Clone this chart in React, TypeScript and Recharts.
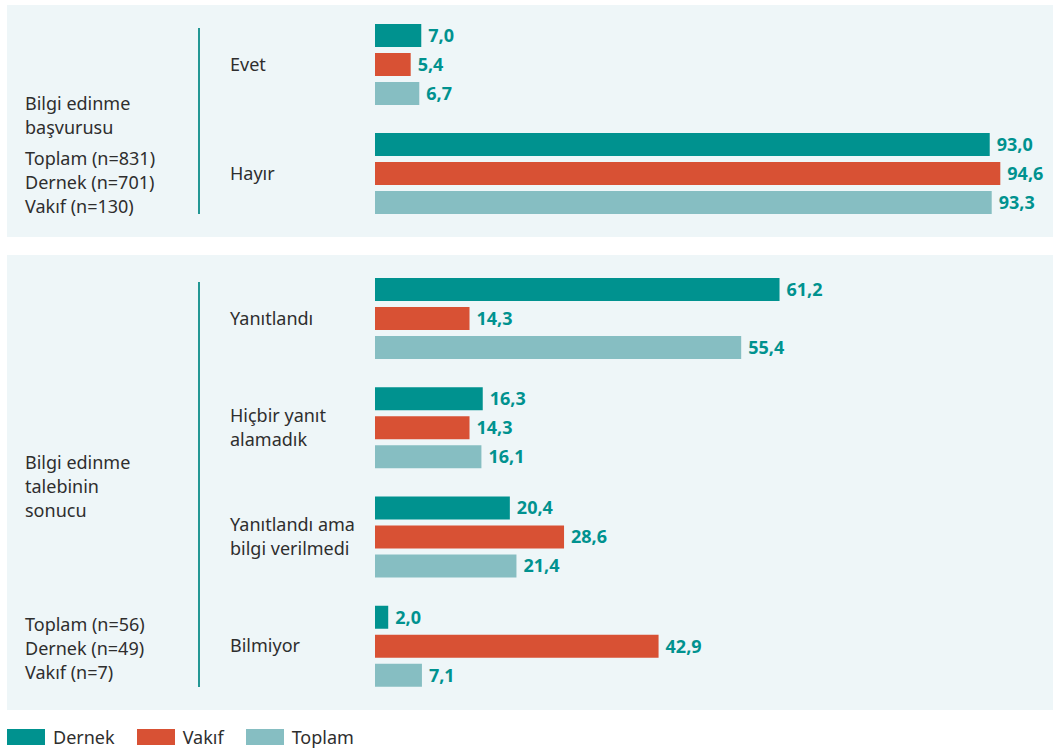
import React from 'react';
import { BarChart, Bar, XAxis, YAxis, LabelList } from 'recharts';

const seriesNames = ['Dernek', 'Vakıf', 'Toplam'];
const seriesKeys = ['dernek', 'vakif', 'toplam'];
const seriesColors = ['#00928f', '#d85134', '#86bec2'];

const basvuruCategories = ['Evet', 'Hayır'];
const basvuruDernek = [7.0, 93.0];
const basvuruVakif = [5.4, 94.6];
const basvuruToplam = [6.7, 93.3];

const sonucCategories = ['Yanıtlandı', 'Hiçbir yanıt\nalamadık', 'Yanıtlandı ama\nbilgi verilmedi', 'Bilmiyor'];
const sonucDernek = [61.2, 16.3, 20.4, 2.0];
const sonucVakif = [14.3, 14.3, 28.6, 42.9];
const sonucToplam = [55.4, 16.1, 21.4, 7.1];

const basvuruTitle = ['Bilgi edinme', 'başvurusu'];
const basvuruCounts = ['Toplam (n=831)', 'Dernek (n=701)', 'Vakıf (n=130)'];
const sonucTitle = ['Bilgi edinme', 'talebinin', 'sonucu'];
const sonucCounts = ['Toplam (n=56)', 'Dernek (n=49)', 'Vakıf (n=7)'];

const FONT = '"Noto Sans", "Open Sans", sans-serif';
const TEXT = '#2e2e2e';
const PANEL_BG = '#eef6f8';
const FS = 18;

const buildRows = (cats: string[], d: number[], v: number[], t: number[]) =>
  cats.map((name, i) => ({ name, dernek: d[i], vakif: v[i], toplam: t[i] }));

const fmt = (val: any) => Number(val).toFixed(1).replace('.', ',');

const CategoryTick = (props: any) => {
  const lines = String(props.payload.value).split('\n');
  const start = -((lines.length - 1) * 24) / 2;
  return (
    <text x={223} y={props.y} fill={TEXT} fontSize={FS} fontFamily={FONT} textAnchor="start">
      {lines.map((l, i) => (
        <tspan key={i} x={223} dy={i === 0 ? start + 6 : 24}>
          {l}
        </tspan>
      ))}
    </text>
  );
};

const Panel = ({
  top,
  height,
  rows,
  margin,
  line,
  blocks,
}: {
  top: number;
  height: number;
  rows: any[];
  margin: { top: number; bottom: number };
  line: { top: number; height: number };
  blocks: { top: number; lines: string[] }[];
}) => (
  <div style={{ position: 'absolute', left: 7, top, width: 1046, height, background: PANEL_BG }}>
    {blocks.map((b, i) => (
      <div
        key={i}
        style={{
          position: 'absolute',
          left: 18,
          top: b.top,
          fontFamily: FONT,
          fontSize: FS,
          lineHeight: '24px',
          color: TEXT,
          whiteSpace: 'nowrap',
        }}
      >
        {b.lines.map((l, j) => (
          <div key={j}>{l}</div>
        ))}
      </div>
    ))}
    <div
      style={{
        position: 'absolute',
        left: 191,
        top: line.top,
        width: 2,
        height: line.height,
        background: '#239794',
      }}
    />
    <BarChart
      width={1046}
      height={height}
      data={rows}
      layout="vertical"
      margin={{ top: margin.top, bottom: margin.bottom, left: 0, right: 17 }}
      barSize={23}
      barGap={6}
      style={{ position: 'absolute', left: 0, top: 0 }}
    >
      <XAxis type="number" domain={[0, 100]} hide />
      <YAxis
        type="category"
        dataKey="name"
        width={368}
        axisLine={false}
        tickLine={false}
        tick={<CategoryTick />}
        interval={0}
      />
      {seriesKeys.map((k, i) => (
        <Bar key={k} dataKey={k} name={seriesNames[i]} fill={seriesColors[i]} isAnimationActive={false}>
          <LabelList
            dataKey={k}
            position="right"
            offset={7}
            formatter={fmt}
            fill="#00928f"
            fontSize={FS}
            fontWeight={700}
            fontFamily={FONT}
          />
        </Bar>
      ))}
    </BarChart>
  </div>
);

export default function App() {
  const rows1 = buildRows(basvuruCategories, basvuruDernek, basvuruVakif, basvuruToplam);
  const rows2 = buildRows(sonucCategories, sonucDernek, sonucVakif, sonucToplam);
  return (
    <div style={{ position: 'absolute', left: 0, top: 0, width: 1054, height: 749, background: '#ffffff' }}>
      <Panel
        top={5}
        height={232}
        rows={rows1}
        margin={{ top: 5, bottom: 9 }}
        line={{ top: 23, height: 186 }}
        blocks={[
          { top: 85.5, lines: basvuruTitle },
          { top: 140.5, lines: basvuruCounts },
        ]}
      />
      <Panel
        top={255}
        height={455}
        rows={rows2}
        margin={{ top: 9, bottom: 9 }}
        line={{ top: 27, height: 405 }}
        blocks={[
          { top: 194.5, lines: sonucTitle },
          { top: 356.5, lines: sonucCounts },
        ]}
      />
      <div style={{ position: 'absolute', left: 7, top: 725, display: 'flex', alignItems: 'center', height: 24 }}>
        {seriesNames.map((n, i) => (
          <div key={n} style={{ display: 'flex', alignItems: 'center', marginRight: 22 }}>
            <div style={{ width: 38, height: 16, background: seriesColors[i], marginRight: 8 }} />
            <span style={{ fontFamily: FONT, fontSize: FS, color: TEXT }}>{n}</span>
          </div>
        ))}
      </div>
    </div>
  );
}
